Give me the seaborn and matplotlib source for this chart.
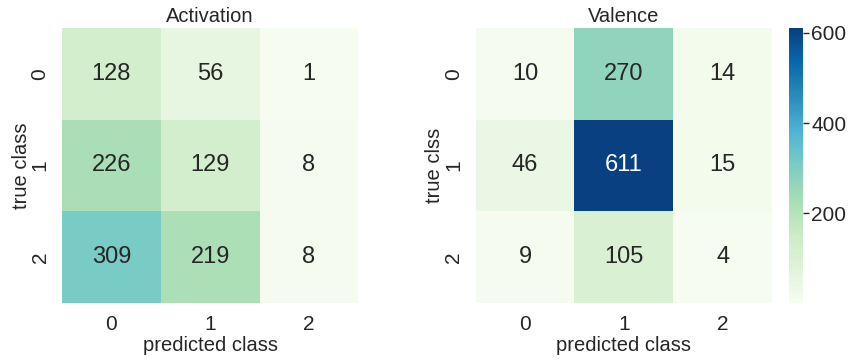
import numpy as np
import matplotlib
matplotlib.use("Agg")
import matplotlib.pyplot as plt
import seaborn as sns

# confusion matrices
classes = [0, 1, 2]
activation = [[128, 56, 1],
              [226, 129, 8],
              [309, 219, 8]]
valence = [[10, 270, 14],
           [46, 611, 15],
           [9, 105, 4]]

sns.set_theme(style="white")
plt.rcParams['font.family'] = ['Liberation Sans', 'DejaVu Sans']
plt.rcParams['text.color'] = '#262626'

vmin = min(np.min(activation), np.min(valence))
vmax = max(np.max(activation), np.max(valence))

fig = plt.figure(figsize=(8.54, 3.62), dpi=100)
ax1 = fig.add_axes([0.0726, 0.163, 0.347, 0.76])
ax2 = fig.add_axes([0.557, 0.163, 0.347, 0.76])
cax = fig.add_axes([0.924, 0.163, 0.0164, 0.76])

sns.heatmap(np.array(activation), ax=ax1, cmap="GnBu", vmin=vmin, vmax=vmax,
            annot=True, fmt="d", cbar=False, annot_kws={"size": 17},
            xticklabels=classes, yticklabels=classes)
sns.heatmap(np.array(valence), ax=ax2, cmap="GnBu", vmin=vmin, vmax=vmax,
            annot=True, fmt="d", cbar=True, cbar_ax=cax, annot_kws={"size": 17},
            xticklabels=classes, yticklabels=classes)

for ax, title, ylab in [(ax1, "Activation", "true class"), (ax2, "Valence", "true clss")]:
    ax.set_title(title, fontsize=14.5, pad=4)
    ax.set_xlabel("predicted class", fontsize=14.5, labelpad=1)
    ax.set_ylabel(ylab, fontsize=14.5, labelpad=0)
    ax.tick_params(axis='both', labelsize=15, length=0, pad=9)

cax.set_yticks([200, 400, 600])
cax.tick_params(labelsize=15, length=4, width=1, color='#262626', pad=2)
cax.yaxis.set_tick_params(which='minor', length=0)

fig.savefig("out.png", dpi=100)
